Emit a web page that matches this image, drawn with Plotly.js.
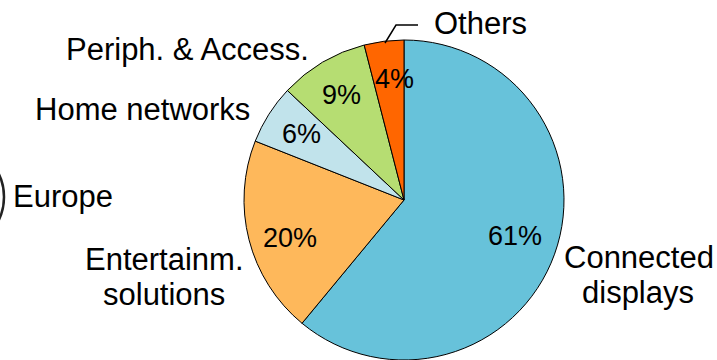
<!DOCTYPE html>
<html>
<head>
<meta charset="utf-8">
<script src="https://cdn.plot.ly/plotly-3.0.1.min.js"></script>
<style>html,body{margin:0;padding:0;background:#fff;}#chart{width:717px;height:360px;}</style>
</head>
<body>
<div id="chart"></div>
<script>
// Data
var categories = ["Connected displays", "Entertainm. solutions", "Home networks", "Periph. & Access.", "Others"];
var labelLines = [["Connected", "displays"], ["Entertainm.", "solutions"], ["Home networks"], ["Periph. & Access."], ["Others"]];
var shares = [61, 20, 6, 9, 4];
var colors = ["#67c2da", "#feb85b", "#c1e3eb", "#b6dd72", "#ff6600"];
var neighbourLabel = "Europe";

var W = 717, H = 360;
var cx = 404, cy = 200, R = 160;
var FONT = "Arial, 'Liberation Sans', sans-serif";

var total = shares.reduce(function(a, b) { return a + b; }, 0);

var annotations = [];
// percentage labels (layout positions, one per slice)
var pctPos = [[515, 236], [290, 238], [301, 134], [341, 95], [394, 79]];
shares.forEach(function(v, i) {
  annotations.push({
    x: pctPos[i][0], y: pctPos[i][1],
    xref: "x", yref: "y", showarrow: false,
    text: Math.round(v / total * 100) + "%",
    font: {family: FONT, size: 27, color: "#000"},
    xanchor: "center", yanchor: "middle"
  });
});

// category labels (layout positions)
var labelPos = [
  [[639, 257], [638, 292]],
  [[164, 259], [164, 294]],
  [[142, 109]],
  [[187, 49]],
  [[480, 23]]
];
labelLines.forEach(function(lines, i) {
  lines.forEach(function(t, j) {
    annotations.push({
      x: labelPos[i][j][0], y: labelPos[i][j][1],
      xref: "x", yref: "y", showarrow: false, text: t,
      font: {family: FONT, size: 31, color: "#000"},
      xanchor: "center", yanchor: "middle"
    });
  });
});
annotations.push({
  x: 63, y: 196, xref: "x", yref: "y", showarrow: false, text: neighbourLabel,
  font: {family: FONT, size: 31, color: "#000"}, xanchor: "center", yanchor: "middle"
});

var trace = {
  type: "pie",
  labels: categories,
  values: shares,
  marker: {colors: colors, line: {color: "#000", width: 1}},
  sort: false,
  direction: "clockwise",
  rotation: 0,
  textinfo: "none",
  hoverinfo: "none",
  showlegend: false,
  domain: {x: [(cx - R) / W, (cx + R) / W], y: [(H - cy - R) / H, (H - cy + R) / H]}
};

var layout = {
  width: W, height: H,
  margin: {l: 0, r: 0, t: 0, b: 0},
  paper_bgcolor: "#fff", plot_bgcolor: "rgba(0,0,0,0)",
  xaxis: {range: [0, W], visible: false, fixedrange: true},
  yaxis: {range: [H, 0], visible: false, fixedrange: true},
  showlegend: false,
  annotations: annotations,
  shapes: [
    {type: "path", xref: "x", yref: "y", path: "M385,43 L396,25 L418,25", line: {color: "#000", width: 1.5}},
    {type: "circle", xref: "x", yref: "y", x0: -100, x1: 4, y0: 145, y1: 249, line: {color: "#222", width: 2.5}, fillcolor: "rgba(0,0,0,0)"}
  ]
};

Plotly.newPlot("chart", [trace], layout, {staticPlot: true, displayModeBar: false});
</script>
</body>
</html>
